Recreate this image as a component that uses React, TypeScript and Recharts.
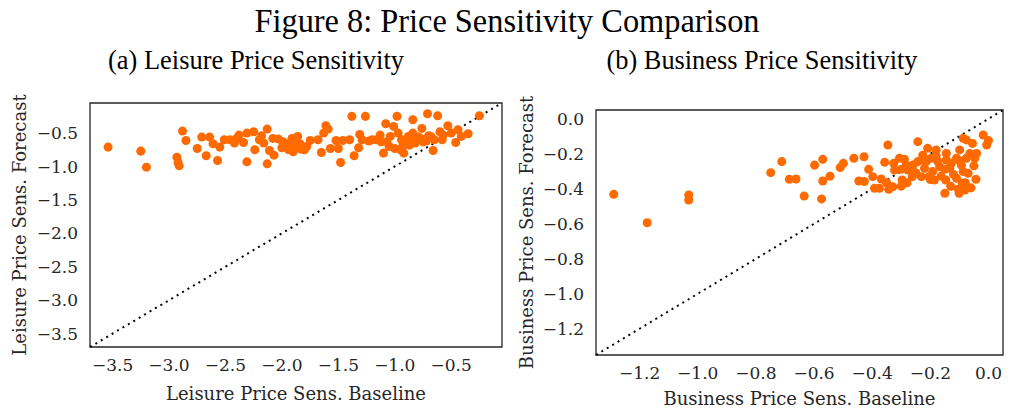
import { ScatterChart, Scatter, XAxis, YAxis, ReferenceLine, ReferenceArea, Label } from "recharts";

// (a) leisure: baseline vs forecast
const leisureBaseline = [
  -3.54, -3.25, -3.2, -2.93, -2.92, -2.91, -2.88, -2.85, -2.75, -2.71,
  -2.67, -2.64, -2.61, -2.57, -2.55, -2.51, -2.46, -2.42, -2.38, -2.34,
  -2.31, -2.31, -2.25, -2.24, -2.18, -2.16, -2.13, -2.13, -2.11, -2.08,
  -2.07, -2.03, -1.99, -1.94, -1.93, -1.91, -1.9, -1.87, -1.86, -1.83,
  -1.8, -1.75, -1.68, -1.65, -1.63, -1.61, -1.59, -1.57, -1.52, -1.5,
  -1.48, -1.46, -1.38, -1.36, -1.32, -1.31, -1.29, -1.26, -1.2, -1.16,
  -1.13, -1.1, -1.08, -1.07, -1.04, -1.01, -1.0, -0.98, -0.97, -0.95,
  -0.94, -0.92, -0.9, -0.88, -0.84, -0.84, -0.82, -0.79, -0.76, -0.75,
  -0.71, -0.7, -0.66, -0.65, -0.62, -0.6, -0.57, -0.53, -0.46, -0.44,
  -0.41, -0.35, -0.25, -1.95, -1.92, -1.88, -1.84, -1.78, -0.93, -0.91,
  -0.87, -0.85, -0.8, -0.77, -0.72, -0.68, -1.12, -1.05, -1.23, -1.4,
  -2.0, -2.2, -2.4, -0.58, -0.5,
];
const leisureForecast = [
  -0.71, -0.77, -1.01, -0.86, -0.94, -0.99, -0.47, -0.61, -0.73, -0.56,
  -0.84, -0.56, -0.66, -0.91, -0.71, -0.6, -0.6, -0.65, -0.53, -0.64,
  -0.5, -0.93, -0.48, -0.75, -0.54, -0.65, -0.44, -0.96, -0.76, -0.58,
  -0.83, -0.59, -0.63, -0.75, -0.65, -0.58, -0.78, -0.7, -0.55, -0.74,
  -0.75, -0.61, -0.6, -0.79, -0.5, -0.39, -0.44, -0.73, -0.61, -0.73,
  -0.94, -0.61, -0.25, -0.84, -0.72, -0.52, -0.6, -0.25, -0.6, -0.6,
  -0.53, -0.8, -0.36, -0.63, -0.55, -0.4, -0.73, -0.25, -0.5, -0.75,
  -0.6, -0.8, -0.63, -0.55, -0.3, -0.5, -0.65, -0.56, -0.43, -0.63,
  -0.21, -0.54, -0.76, -0.6, -0.24, -0.48, -0.53, -0.39, -0.64, -0.45,
  -0.55, -0.51, -0.24, -0.68, -0.72, -0.62, -0.66, -0.7, -0.7, -0.66,
  -0.68, -0.62, -0.6, -0.58, -0.62, -0.55, -0.63, -0.7, -0.62, -0.6,
  -0.72, -0.6, -0.58, -0.6, -0.5,
];

// (b) business
const businessBaseline = [
  -1.289, -1.174, -1.031, -1.031, -0.749, -0.711, -0.685, -0.662, -0.634, -0.598,
  -0.57, -0.57, -0.574, -0.545, -0.51, -0.499, -0.463, -0.446, -0.428, -0.427,
  -0.412, -0.398, -0.392, -0.375, -0.369, -0.357, -0.346, -0.343, -0.329, -0.326,
  -0.323, -0.306, -0.3, -0.297, -0.289, -0.283, -0.277, -0.262, -0.26, -0.243,
  -0.243, -0.231, -0.226, -0.22, -0.214, -0.209, -0.205, -0.197, -0.192, -0.186,
  -0.18, -0.174, -0.168, -0.163, -0.15, -0.147, -0.145, -0.145, -0.133, -0.128,
  -0.11, -0.11, -0.104, -0.101, -0.099, -0.093, -0.09, -0.087, -0.087, -0.081,
  -0.076, -0.076, -0.07, -0.064, -0.055, -0.047, -0.043, -0.041, -0.018, -0.006,
  0.0, -0.3, -0.25, -0.2, -0.15, -0.12, -0.08, -0.1, -0.22, -0.18,
  -0.05, -0.28, -0.35, -0.13, -0.06,
];
const businessForecast = [
  -0.432, -0.594, -0.436, -0.464, -0.308, -0.245, -0.346, -0.344, -0.442, -0.265,
  -0.356, -0.232, -0.458, -0.328, -0.279, -0.255, -0.226, -0.356, -0.217, -0.359,
  -0.289, -0.331, -0.397, -0.397, -0.344, -0.249, -0.15, -0.403, -0.389, -0.255,
  -0.293, -0.226, -0.385, -0.35, -0.232, -0.265, -0.293, -0.331, -0.265, -0.131,
  -0.245, -0.331, -0.208, -0.283, -0.245, -0.169, -0.331, -0.226, -0.302, -0.35,
  -0.178, -0.245, -0.274, -0.328, -0.426, -0.35, -0.198, -0.236, -0.283, -0.255,
  -0.226, -0.34, -0.403, -0.426, -0.178, -0.265, -0.369, -0.112, -0.302, -0.407,
  -0.121, -0.226, -0.312, -0.198, -0.141, -0.226, -0.346, -0.198, -0.093, -0.15,
  -0.125, -0.289, -0.308, -0.347, -0.289, -0.318, -0.366, -0.24, -0.24, -0.211,
  -0.269, -0.366, -0.366, -0.386, -0.395,
];

const leisureTicks = [-3.5, -3.0, -2.5, -2.0, -1.5, -1.0, -0.5];
const businessTicks = [-1.2, -1.0, -0.8, -0.6, -0.4, -0.2, 0.0];

const ORANGE = "#ff6a00";
const INK = "#262626";
const tickFont = { fill: INK, fontSize: 17, fontFamily: "DejaVu Serif" };
const labelFont = { fill: INK, fontSize: 18, fontFamily: "DejaVu Serif" };

const fmt = (v: number) => (v < 0 ? "\u2212" : "") + Math.abs(v).toFixed(1);

function zip(xs: number[], ys: number[]) {
  return xs.map((x, i) => ({ x, y: ys[i] }));
}

interface PanelProps {
  xs: number[];
  ys: number[];
  ticks: number[];
  lo: number;
  hi: number;
  xLabel: string;
  yLabel: string;
  left: number;
  width: number;
  top: number;
  axisW: number;
  axisH: number;
  yLabelX: number;
  xLabelOffset: number;
}

function Panel(p: PanelProps) {
  return (
    <div style={{ position: "absolute", left: p.left, top: 0 }}>
      <ScatterChart width={p.width} height={408} margin={{ top: p.top, right: 8, bottom: 0, left: 0 }}>
        <XAxis
          type="number"
          dataKey="x"
          domain={[p.lo, p.hi]}
          ticks={p.ticks}
          interval={0}
          allowDataOverflow
          tickFormatter={fmt}
          tick={tickFont}
          tickLine={false}
          axisLine={false}
          tickSize={0}
          tickMargin={12}
          height={p.axisH}
        >
          <Label value={p.xLabel} position="insideBottom" offset={p.xLabelOffset} style={labelFont} />
        </XAxis>
        <YAxis
          type="number"
          dataKey="y"
          domain={[p.lo, p.hi]}
          ticks={p.ticks}
          interval={0}
          allowDataOverflow
          tickFormatter={fmt}
          tick={tickFont}
          tickLine={false}
          axisLine={false}
          tickSize={0}
          tickMargin={12}
          width={p.axisW}
        >
          <Label
            value={p.yLabel}
            position="insideLeft"
            angle={-90}
            offset={p.yLabelX}
            style={{ ...labelFont, textAnchor: "middle" }}
          />
        </YAxis>
        <ReferenceArea
          x1={p.lo}
          x2={p.hi}
          y1={p.lo}
          y2={p.hi}
          fill="none"
          stroke={INK}
          strokeWidth={1.3}
          ifOverflow="visible"
        />
        <Scatter data={zip(p.xs, p.ys)} fill={ORANGE} isAnimationActive={false} />
        <ReferenceLine
          segment={[
            { x: p.lo, y: p.lo },
            { x: p.hi, y: p.hi },
          ]}
          stroke="#000"
          strokeWidth={2}
          strokeDasharray="2 4.3"
          ifOverflow="visible"
        />
      </ScatterChart>
    </div>
  );
}

const titleFont = { fontFamily: "'Liberation Serif', 'Times New Roman', serif" };

export default function App() {
  return (
    <div style={{ position: "absolute", left: 0, top: 0, width: 1011, height: 408, background: "#fff" }}>
      <Panel
        xs={leisureBaseline}
        ys={leisureForecast}
        ticks={leisureTicks}
        lo={-3.7}
        hi={-0.05}
        xLabel="Leisure Price Sens. Baseline"
        yLabel="Leisure Price Sens. Forecast"
        left={0}
        width={510}
        top={103}
        axisW={90}
        axisH={61}
        yLabelX={20}
        xLabelOffset={8}
      />
      <Panel
        xs={businessBaseline}
        ys={businessForecast}
        ticks={businessTicks}
        lo={-1.35}
        hi={0.05}
        xLabel="Business Price Sens. Baseline"
        yLabel="Business Price Sens. Forecast"
        left={505}
        width={506}
        top={110}
        axisW={91}
        axisH={53}
        yLabelX={22}
        xLabelOffset={3}
      />
      <svg
        width={1011}
        height={408}
        style={{ position: "absolute", left: 0, top: 0, pointerEvents: "none", ...titleFont }}
        fill="#000"
      >
        <text x={507} y={32} fontSize={33} textAnchor="middle" textLength={505} lengthAdjust="spacingAndGlyphs">
          Figure 8: Price Sensitivity Comparison
        </text>
        <text x={256} y={69} fontSize={28} textAnchor="middle" textLength={296} lengthAdjust="spacingAndGlyphs">
          (a) Leisure Price Sensitivity
        </text>
        <text x={762} y={69} fontSize={28} textAnchor="middle" textLength={311} lengthAdjust="spacingAndGlyphs">
          (b) Business Price Sensitivity
        </text>
      </svg>
    </div>
  );
}
